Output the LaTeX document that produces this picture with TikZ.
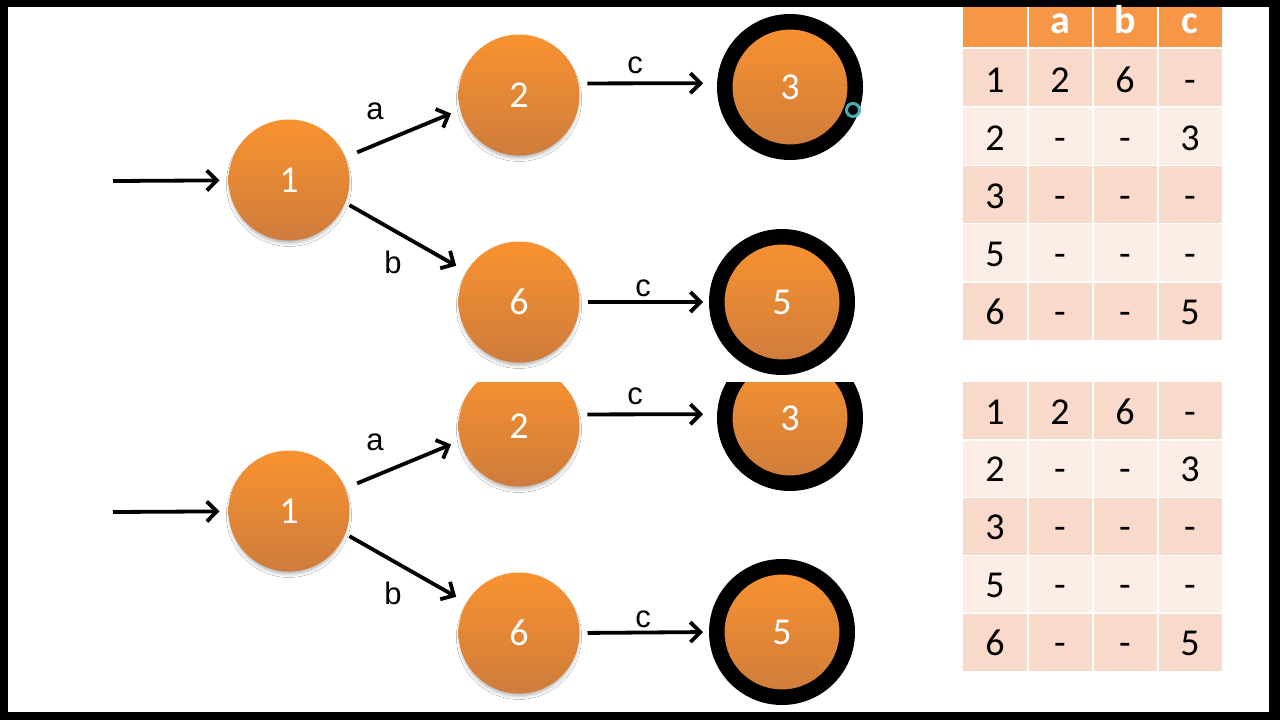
\documentclass[tikz,border=0pt]{standalone}
\usepackage{fontspec}
\setmainfont{Carlito}
\newfontfamily\arialf{Liberation Sans}
\usetikzlibrary{arrows.meta,shadows.blur}
\definecolor{orTop}{RGB}{249,146,47}
\definecolor{orBot}{RGB}{206,124,60}
\definecolor{hdr}{RGB}{247,150,70}
\definecolor{rowA}{RGB}{249,217,202}
\definecolor{rowB}{RGB}{252,237,231}
\definecolor{cursorc}{RGB}{70,175,185}
\begin{document}
\begin{tikzpicture}[x=1pt,y=-1pt,
  softshadow/.style={blur shadow={shadow xshift=0pt, shadow yshift=-4pt, shadow scale=0.97, shadow blur radius=4pt, shadow opacity=35}},
  state/.style={circle, inner sep=0pt, outer sep=0pt, minimum size=121pt,
    top color=orTop, bottom color=orBot, text=white,
    font=\fontsize{38}{40}\selectfont, softshadow},
  accstate/.style={circle, inner sep=0pt, minimum size=130.5pt, draw=black, line width=15.5pt,
    top color=orTop, bottom color=orBot, text=white,
    font=\fontsize{38}{40}\selectfont, softshadow},
  arr/.style={line width=3.8pt, -{Straight Barb[length=10pt,width=20pt,line width=3.8pt]}},
  lbl/.style={font=\arialf\fontsize{31}{33}\selectfont, inner sep=0pt},
  cell/.style={anchor=base, font=\fontsize{38}{40}\selectfont, inner sep=0pt},
  hcell/.style={anchor=base, font=\bfseries\fontsize{40}{42}\selectfont, text=white, inner sep=0pt}
]
\useasboundingbox (0,0) rectangle (1280,720);
\fill[black] (0,0) rectangle (1280,720);
\fill[white] (8,7) rectangle (1269,712);

% ---------- top graph ----------
\node[state] (t1) at (289,180) {1};
\node[state] (t2) at (519,95) {2};
\node[state] (t6) at (519,302) {6};
\node[accstate] (t3) at (790,87) {3};
\node[accstate] (t5) at (782,302) {5};
\coordinate (ts) at (113,181);
\draw[arr, shorten >=9pt] (ts) -- (t1);
\draw[arr, shorten <=13pt, shorten >=10pt] (t1.22) -- (t2.194);
\draw[arr, shorten <=5pt, shorten >=12pt] (t1.-22) -- (t6.150);
\draw[arr, shorten <=9pt, shorten >=14pt] (t2.11) -- (t3.177);
\draw[arr, shorten <=8pt, shorten >=6pt] (t6.east) -- (t5.west);
\node[lbl] (tla) at (375,111) {a};
\node[lbl] (tlb) at (393,262) {b};
\node[lbl] (tlc1) at (635,65) {c};
\node[lbl] (tlc2) at (643,288) {c};
\draw[cursorc, line width=3pt] (853,110) circle (6.5);

% ---------- bottom graph (cut at the top) ----------
\begin{scope}
\clip (0,382) rectangle (960,712);
\node[state] (b1) at (289,511) {1};
\node[state] (b2) at (519,426) {2};
\node[state] (b6) at (519,633) {6};
\node[accstate] (b3) at (790,418) {3};
\node[accstate] (b5) at (782,632) {5};
\coordinate (bs) at (113,512);
\draw[arr, shorten >=9pt] (bs) -- (b1);
\draw[arr, shorten <=13pt, shorten >=10pt] (b1.22) -- (b2.194);
\draw[arr, shorten <=5pt, shorten >=12pt] (b1.-22) -- (b6.150);
\draw[arr, shorten <=9pt, shorten >=14pt] (b2.11) -- (b3.177);
\draw[arr, shorten <=8pt, shorten >=6pt] (b6.east) -- (b5.west);
\node[lbl] (bla) at (375,442) {a};
\node[lbl] (blb) at (393,593) {b};
\node[lbl] (blc1) at (635,396) {c};
\node[lbl] (blc2) at (643,619) {c};
\end{scope}

% ---------- top table ----------
\fill[hdr] (963,7) rectangle (1222,47);
\foreach \i/\col in {1/rowA,2/rowB,3/rowA,4/rowB,5/rowA}{
  \fill[\col] (963,{49+58.2*(\i-1)}) rectangle (1222,{49+58.2*\i});
}
\foreach \x in {1028,1093,1158}{
  \draw[white, line width=1.5pt] (\x,7) -- (\x,340);
}
\foreach \i in {1,2,3,4}{
  \draw[white, line width=1.5pt] (963,{49+58.2*\i}) -- (1222,{49+58.2*\i});
}
\node[hcell] (ha) at (1060,33) {a};
\node[hcell] (hb) at (1125,33) {b};
\node[hcell] (hc) at (1190,33) {c};
\foreach \s/\p/\q/\r [count=\i] in {1/2/6/-, 2/-/-/3, 3/-/-/-, 5/-/-/-, 6/-/-/5}{
  \node[cell] (ta\i) at (995,{49+58.2*(\i-1)+43}) {\s};
  \node[cell] (tb\i) at (1060,{49+58.2*(\i-1)+43}) {\p};
  \node[cell] (tc\i) at (1125,{49+58.2*(\i-1)+43}) {\q};
  \node[cell] (td\i) at (1190,{49+58.2*(\i-1)+43}) {\r};
}

% ---------- bottom table ----------
\foreach \i/\col in {1/rowA,2/rowB,3/rowA,4/rowB,5/rowA}{
  \fill[\col] (963,{382+57.8*(\i-1)}) rectangle (1222,{382+57.8*\i});
}
\foreach \x in {1028,1093,1158}{
  \draw[white, line width=1.5pt] (\x,382) -- (\x,671);
}
\foreach \i in {1,2,3,4}{
  \draw[white, line width=1.5pt] (963,{382+57.8*\i}) -- (1222,{382+57.8*\i});
}
\foreach \s/\p/\q/\r [count=\i] in {1/2/6/-, 2/-/-/3, 3/-/-/-, 5/-/-/-, 6/-/-/5}{
  \node[cell] (ua\i) at (995,{382+57.8*(\i-1)+42}) {\s};
  \node[cell] (ub\i) at (1060,{382+57.8*(\i-1)+42}) {\p};
  \node[cell] (uc\i) at (1125,{382+57.8*(\i-1)+42}) {\q};
  \node[cell] (ud\i) at (1190,{382+57.8*(\i-1)+42}) {\r};
}
\end{tikzpicture}
\end{document}
